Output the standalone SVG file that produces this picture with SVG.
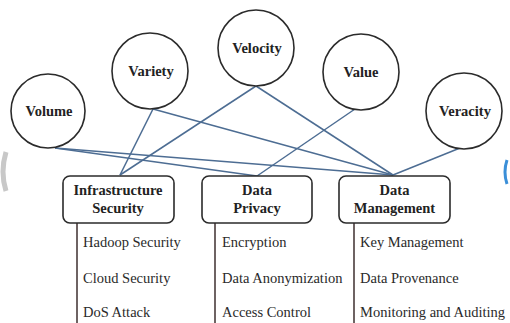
<svg xmlns="http://www.w3.org/2000/svg" width="510" height="323" viewBox="0 0 510 323">
  <style>
    .circle { fill: #ffffff; stroke: #2b2b2b; stroke-width: 1.6; }
    .box { fill: #ffffff; stroke: #2b2b2b; stroke-width: 1.6; }
    .title { font-family: 'Liberation Serif', 'DejaVu Serif', serif; font-weight: bold; font-size: 14.5px; fill: #222222; text-anchor: middle; }
    .item { font-family: 'Liberation Serif', 'DejaVu Serif', serif; font-size: 14.5px; fill: #2a2a2a; }
    .link { stroke: #4d6d93; stroke-width: 1.5; fill: none; }
    .rail { stroke: #4a3c3c; stroke-width: 1.6; }
  </style>
  <rect width="510" height="323" fill="#ffffff"/>

  <!-- edge marks -->
  <path d="M 6 152 Q 0 172 6 191" stroke="#c8c8c8" stroke-width="5" fill="none"/>
  <path d="M 507 160 Q 503 172 507 184" stroke="#3b8fd8" stroke-width="3" fill="none"/>

  <!-- connectors -->
  <g id="connectors">
    <line class="link" x1="55" y1="148" x2="257" y2="176"/>
    <line class="link" x1="55" y1="148" x2="393" y2="175"/>
    <line class="link" x1="153" y1="109" x2="120" y2="175"/>
    <line class="link" x1="153" y1="109" x2="393" y2="175"/>
    <line class="link" x1="256" y1="86" x2="120" y2="175"/>
    <line class="link" x1="256" y1="86" x2="393" y2="175"/>
    <line class="link" x1="355" y1="109" x2="257" y2="176"/>
    <line class="link" x1="460" y1="148" x2="393" y2="175"/>
  </g>

  <!-- the five Vs -->
  <g id="volume">
    <circle class="circle" cx="48" cy="111" r="37"/>
    <text class="title" x="49" y="116">Volume</text>
  </g>
  <g id="variety">
    <circle class="circle" cx="150" cy="71" r="38"/>
    <text class="title" x="151" y="76">Variety</text>
  </g>
  <g id="velocity">
    <circle class="circle" cx="256" cy="48" r="38"/>
    <text class="title" x="257" y="53">Velocity</text>
  </g>
  <g id="value">
    <circle class="circle" cx="361" cy="72" r="38"/>
    <text class="title" x="361" y="77">Value</text>
  </g>
  <g id="veracity">
    <circle class="circle" cx="464" cy="111" r="38"/>
    <text class="title" x="465" y="116">Veracity</text>
  </g>

  <!-- security areas -->
  <g id="infrastructure-security">
    <line class="rail" x1="77" y1="223" x2="77" y2="323"/>
    <rect class="box" x="63" y="176" width="111" height="47" rx="7"/>
    <text class="title" x="118" y="195">Infrastructure</text>
    <text class="title" x="118" y="213">Security</text>
    <text class="item" x="83" y="247">Hadoop Security</text>
    <text class="item" x="83" y="283">Cloud Security</text>
    <text class="item" x="83" y="317">DoS Attack</text>
  </g>
  <g id="data-privacy">
    <line class="rail" x1="215" y1="223" x2="215" y2="323"/>
    <rect class="box" x="202" y="176" width="110" height="47" rx="7"/>
    <text class="title" x="257" y="195">Data</text>
    <text class="title" x="257" y="213">Privacy</text>
    <text class="item" x="222" y="247">Encryption</text>
    <text class="item" x="222" y="283">Data Anonymization</text>
    <text class="item" x="222" y="317">Access Control</text>
  </g>
  <g id="data-management">
    <line class="rail" x1="354" y1="223" x2="354" y2="323"/>
    <rect class="box" x="339" y="176" width="111" height="47" rx="7"/>
    <text class="title" x="394.5" y="195">Data</text>
    <text class="title" x="394.5" y="213">Management</text>
    <text class="item" x="360" y="247">Key Management</text>
    <text class="item" x="360" y="283">Data Provenance</text>
    <text class="item" x="360" y="317">Monitoring and Auditing</text>
  </g>
</svg>
